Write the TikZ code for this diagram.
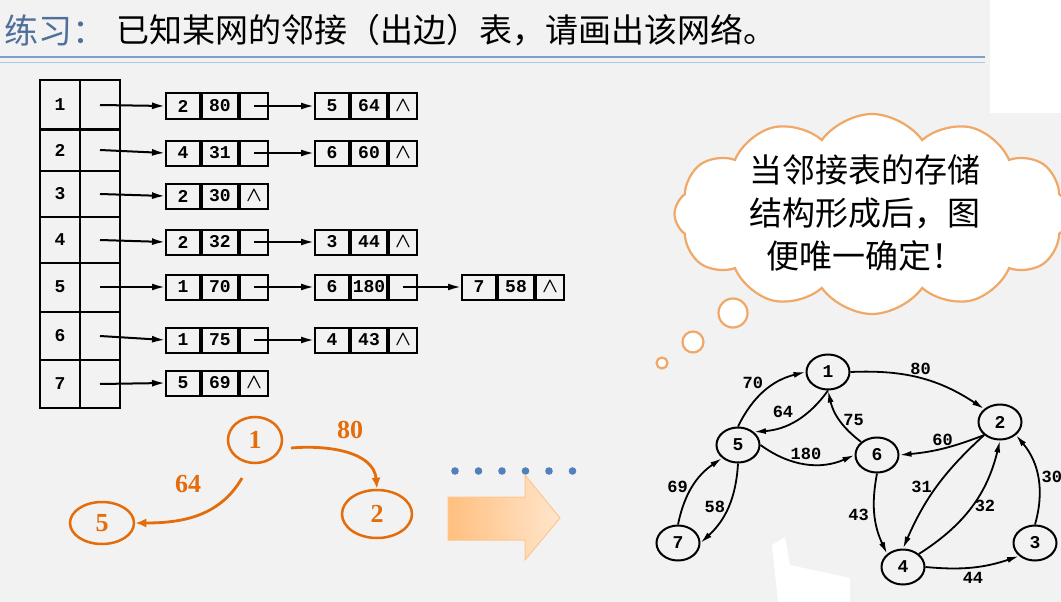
\documentclass[tikz,border=0pt]{standalone}
\usepackage{fontspec}
\usepackage{amsmath}
\setmainfont{Liberation Serif}
\newfontfamily\cjk{Noto Sans CJK SC}
\newfontfamily\numfont{Liberation Mono}
\usetikzlibrary{arrows.meta,shapes.symbols,shapes.geometric}
\definecolor{bgray}{HTML}{F2F2F2}
\definecolor{ttlblue}{HTML}{4F7098}
\definecolor{rulblue}{HTML}{7F9FC8}
\definecolor{ora}{HTML}{E46C0A}
\definecolor{cloudora}{HTML}{F0A868}
\definecolor{dotblue}{HTML}{4F81BD}
\tikzset{
  cell/.style={draw,line width=2pt,minimum height=25pt,inner sep=0pt,font=\numfont\bfseries\fontsize{18}{18}\selectfont},
  idx/.style={draw,line width=2pt,minimum width=40pt,inner sep=0pt,font=\numfont\bfseries\fontsize{18}{18}\selectfont},
  ptr/.style={-{Latex[length=13pt,width=7pt]},line width=2pt},
  vtx/.style={draw,line width=2pt,ellipse,minimum width=43pt,minimum height=35pt,inner sep=0pt,font=\numfont\bfseries\fontsize{18}{18}\selectfont},
  ed/.style={-{Latex[length=12pt,width=6pt]},line width=1.8pt},
  wt/.style={font=\numfont\bfseries\fontsize{17}{17}\selectfont,inner sep=1pt},
  ovtx/.style={draw=ora,line width=2.5pt,ellipse,inner sep=0pt,font=\bfseries\fontsize{26}{26}\selectfont,text=ora},
  oed/.style={draw=ora,line width=2.8pt,-{Latex[length=11pt,width=9pt]}},
  bub/.style={circle,draw=cloudora,line width=2.2pt,fill=white,inner sep=0pt}
}
% list node: name, x, y, vertex, weight, last
\newcommand\lnode[6]{%
  \node[cell,minimum width=34pt] (#1a) at (#2+17,#3) {#4};
  \node[cell,minimum width=36pt,anchor=west] (#1b) at (#1a.east) {#5};
  \node[cell,minimum width=28pt,anchor=west] (#1c) at (#1b.east) {#6};}
\newcommand\nil{\fontsize{22}{22}\selectfont$\boldsymbol{\wedge}$}
\begin{document}
\begin{tikzpicture}[x=1pt,y=-1pt]
\fill[bgray] (0,0) rectangle (1061,602);
\fill[white] (990,0) rectangle (1061,113);
\useasboundingbox (0,0) rectangle (1061,602);
% title
\node[anchor=west,inner sep=0pt,text=ttlblue,font=\cjk\fontsize{34}{34}\selectfont] (ttl) at (4,30) {练习：};
\node[anchor=west,inner sep=0pt,font=\cjk\fontsize{33}{33}\selectfont] (ttx) at (116,30) {已知某网的邻接（出边）表，请画出该网络。};
\draw[rulblue,line width=1.8pt] (0,57) -- (985,57);
\draw[rulblue!60,line width=1pt] (0,63) -- (985,63);
% head table
\foreach \i/\yy/\hh in {1/105/49,2/150/42,3/194/46,4/240/46,5/287/49,6/336/48,7/384/48}{
  \node[idx,minimum height=\hh pt] (h\i) at (60,\yy) {\i};
  \node[idx,minimum height=\hh pt] (p\i) at (100,\yy) {};
}
% adjacency lists
\lnode{a1}{166}{106}{2}{80}{}
\lnode{b1}{315}{106}{5}{64}{\nil}
\lnode{a2}{166}{153}{4}{31}{}
\lnode{b2}{315}{153}{6}{60}{\nil}
\lnode{a3}{166}{196}{2}{30}{\nil}
\lnode{a4}{166}{242}{2}{32}{}
\lnode{b4}{315}{242}{3}{44}{\nil}
\lnode{a5}{166}{287}{1}{70}{}
\lnode{b5}{315}{287}{6}{180}{}
\lnode{c5}{462}{287}{7}{58}{\nil}
\lnode{a6}{166}{340}{1}{75}{}
\lnode{b6}{315}{340}{4}{43}{\nil}
\lnode{a7}{166}{383}{5}{69}{\nil}
\foreach \i in {1,...,7} \draw[ptr] (p\i.center) -- (a\i a.west);
\foreach \i in {1,2,4,5,6} \draw[ptr] (a\i c.center) -- (b\i a.west);
\draw[ptr] (b5c.center) -- (c5a.west);
% orange sketch
\node[ovtx,minimum width=54pt,minimum height=46pt] (o1) at (255,440) {1};
\node[ovtx,minimum width=64pt,minimum height=42pt] (o5) at (102,523) {5};
\node[ovtx,minimum width=70pt,minimum height=48pt] (o2) at (377,514) {2};
\draw[oed] (291,448) to[out=5,in=95] (o2.north);
\draw[oed] (242,478) to[out=-120,in=0] (o5.east);
\node[text=ora,font=\bfseries\fontsize{26}{26}\selectfont] (l80) at (350,430) {80};
\node[text=ora,font=\bfseries\fontsize{26}{26}\selectfont] (l64) at (188,484) {64};
\foreach \k in {0,...,5} \fill[dotblue] (455+\k*23.5,471) circle (3.8pt);
\shade[left color=orange!50,right color=orange!20,draw=orange!45,line width=1pt]
  (448,497) -- (525,497) -- (525,475) -- (560,518) -- (525,560) -- (525,540) -- (448,540) -- cycle;
% thought cloud
\node[cloud,cloud puffs=12,cloud puff arc=110,aspect=2.2,draw=cloudora,line width=2.2pt,fill=white,
  minimum width=395pt,minimum height=200pt] (cld) at (872,214) {};
\node[align=center,font=\cjk\fontsize{33}{43}\selectfont] (ctx) at (865,213) {当邻接表的存储\\结构形成后，图\\便唯一确定！};
\node[bub,minimum size=29pt] (q1) at (733,313) {};
\node[bub,minimum size=21pt] (q2) at (693,342) {};
\node[bub,minimum size=11pt] (q3) at (662,363) {};
% network
\node[vtx] (v1) at (828,372) {1};
\node[vtx] (v2) at (1000,422) {2};
\node[vtx] (v3) at (1035,543) {3};
\node[vtx] (v4) at (903,567) {4};
\node[vtx] (v5) at (738,445) {5};
\node[vtx] (v6) at (877,455) {6};
\node[vtx] (v7) at (678,543) {7};
\draw[ed] (v1.east) to[bend left=18] node[wt,above=2pt] {80} (v2.north west);
\draw[ed] (v5.north) to[bend left=25] node[wt,above left] {70} (v1.west);
\draw[ed] (v1.south) to[bend left=25] node[wt,above left=1pt] {64} (v5.north east);
\draw[ed] (v6.north west) to[bend left=20] node[wt,right=2pt] {75} (v1.south);
\draw[ed] (v5.east) to[bend right=30] node[wt,above=2pt] {180} (v6.west);
\draw[ed] (v2.south west) to[bend left=8] node[wt,above=1pt] {60} (v6.east);
\draw[ed] (v2.south west) to[bend right=12] node[wt,left=3pt] {31} (v4.north);
\draw[ed] (v4.north east) to[bend right=22] node[wt,right=1pt] {32} (v2.south);
\draw[ed] (v6.south) to[bend right=18] node[wt,left=4pt] {43} (v4.north west);
\draw[ed] (v5.south) to[bend left=22] node[wt,left=1pt] {58} (v7.east);
\draw[ed] (v7.north) to[bend left=22] node[wt,left=3pt] {69} (v5.south west);
\draw[ed] (v4.east) to[bend right=12] node[wt,below=3pt] {44} (v3.south west);
\draw[ed] (v3.north) to[bend right=28] node[wt,right=2pt] {30} (v2.south east);
\fill[white] (772,545) -- (785,537) -- (790,565) -- (850,578) -- (850,602) -- (778,602) -- cycle;
\end{tikzpicture}
\end{document}
